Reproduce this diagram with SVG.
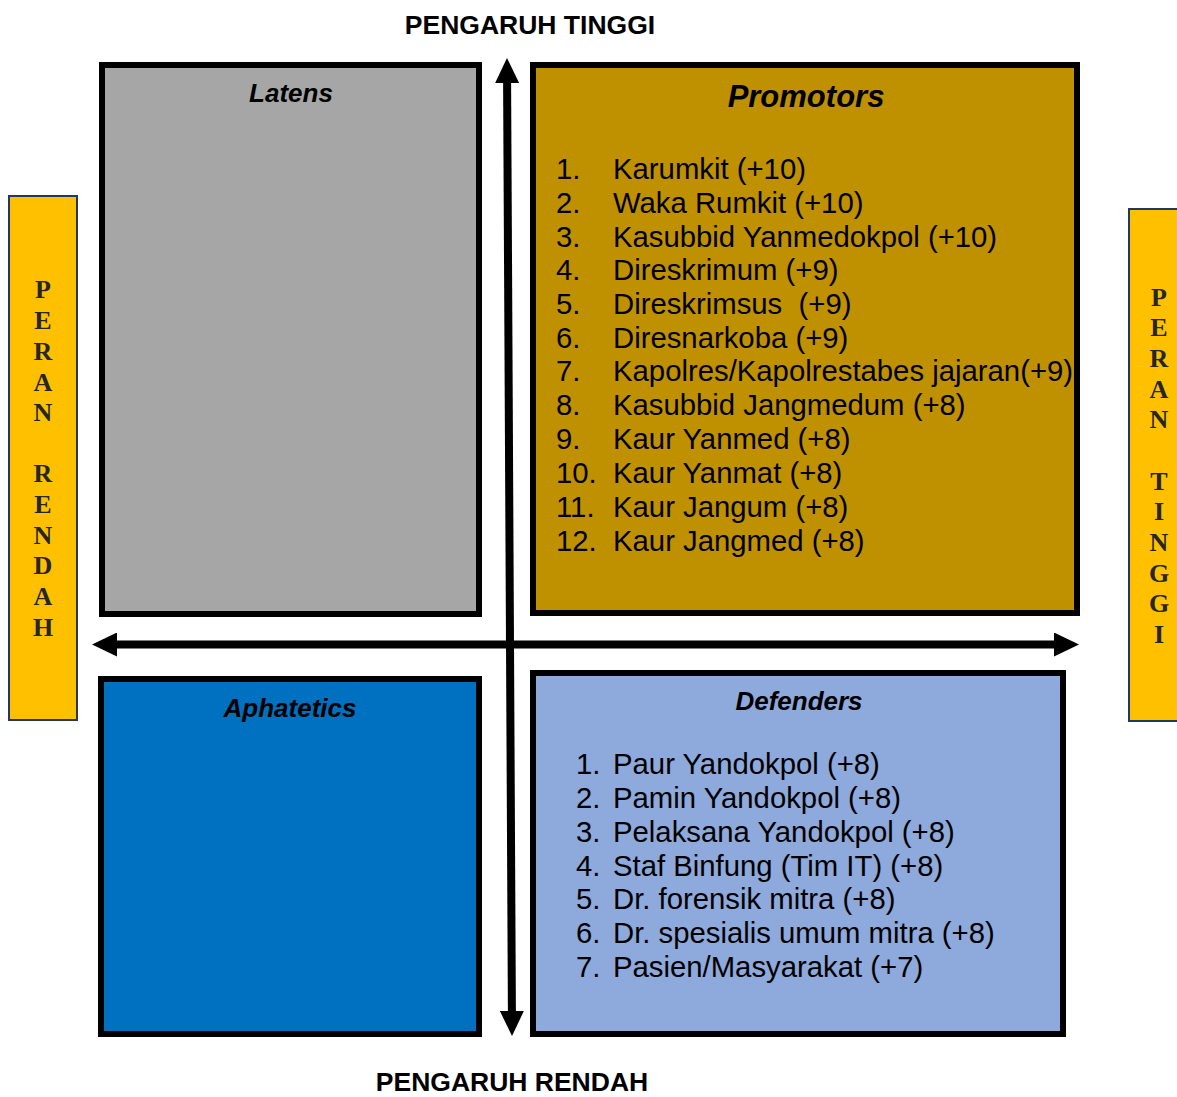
<svg xmlns="http://www.w3.org/2000/svg" width="1177" height="1097" viewBox="0 0 1177 1097">
  <style>
    .axis-label { font-family: "Liberation Sans", Arial, sans-serif; font-weight: bold; font-size: 26.5px; fill: #000; text-anchor: middle; }
    .title { font-family: "Liberation Sans", Arial, sans-serif; font-weight: bold; font-style: italic; font-size: 26px; fill: #000; text-anchor: middle; }
    .item { font-family: "Liberation Sans", Arial, sans-serif; font-size: 29.3px; fill: #000; }
    .quad { stroke: #000; stroke-width: 6; }
    .side { fill: #FFC000; stroke: #1F3864; stroke-width: 2; }
    .side-text { font-family: "Liberation Serif", "Times New Roman", serif; font-weight: bold; font-size: 26px; fill: #262626; text-anchor: middle; }
    .axis { stroke: #000; stroke-width: 8; fill: none; }
  </style>
  <defs>
    <marker id="head" viewBox="0 0 25 24" refX="0" refY="12" markerWidth="25" markerHeight="24" markerUnits="userSpaceOnUse" orient="auto-start-reverse">
      <path d="M0,0 L25,12 L0,24 Z" fill="#000"/>
    </marker>
  </defs>

  <rect width="1177" height="1097" fill="#fff"/>

  <!-- axis captions -->
  <text class="axis-label" x="530" y="34">PENGARUH TINGGI</text>
  <text class="axis-label" x="512" y="1091">PENGARUH RENDAH</text>

  <!-- side bars -->
  <g id="peran-rendah">
    <rect class="side" x="9" y="196" width="68" height="524"/>
    <text class="side-text" x="43"><tspan x="43" y="298">P</tspan><tspan x="43" y="329">E</tspan><tspan x="43" y="360">R</tspan><tspan x="43" y="391">A</tspan><tspan x="43" y="421">N</tspan><tspan x="43" y="482">R</tspan><tspan x="43" y="513">E</tspan><tspan x="43" y="544">N</tspan><tspan x="43" y="574">D</tspan><tspan x="43" y="605">A</tspan><tspan x="43" y="636">H</tspan></text>
  </g>
  <g id="peran-tinggi">
    <rect class="side" x="1129" y="209" width="60" height="512"/>
    <text class="side-text" x="1159"><tspan x="1159" y="306">P</tspan><tspan x="1159" y="336">E</tspan><tspan x="1159" y="367">R</tspan><tspan x="1159" y="398">A</tspan><tspan x="1159" y="428">N</tspan><tspan x="1159" y="490">T</tspan><tspan x="1159" y="520">I</tspan><tspan x="1159" y="551">N</tspan><tspan x="1159" y="582">G</tspan><tspan x="1159" y="612">G</tspan><tspan x="1159" y="643">I</tspan></text>
  </g>

  <!-- quadrants -->
  <g id="latens">
    <rect class="quad" x="102" y="65" width="377" height="549" fill="#A6A6A6"/>
    <text class="title" x="291" y="102">Latens</text>
  </g>

  <g id="promotors">
    <rect class="quad" x="533" y="65" width="544" height="548" fill="#BF9000"/>
    <text class="title" x="806" y="107" style="font-size:31px">Promotors</text>
    <g class="item">
      <text x="556" y="179">1.</text><text x="613" y="179">Karumkit (+10)</text>
      <text x="556" y="213">2.</text><text x="613" y="213">Waka Rumkit (+10)</text>
      <text x="556" y="247">3.</text><text x="613" y="247">Kasubbid Yanmedokpol (+10)</text>
      <text x="556" y="280">4.</text><text x="613" y="280">Direskrimum (+9)</text>
      <text x="556" y="314">5.</text><text x="613" y="314" xml:space="preserve">Direskrimsus  (+9)</text>
      <text x="556" y="348">6.</text><text x="613" y="348">Diresnarkoba (+9)</text>
      <text x="556" y="381">7.</text><text x="613" y="381">Kapolres/Kapolrestabes jajaran(+9)</text>
      <text x="556" y="415">8.</text><text x="613" y="415">Kasubbid Jangmedum (+8)</text>
      <text x="556" y="449">9.</text><text x="613" y="449">Kaur Yanmed (+8)</text>
      <text x="556" y="483">10.</text><text x="613" y="483">Kaur Yanmat (+8)</text>
      <text x="556" y="517">11.</text><text x="613" y="517">Kaur Jangum (+8)</text>
      <text x="556" y="551">12.</text><text x="613" y="551">Kaur Jangmed (+8)</text>
    </g>
  </g>

  <g id="aphatetics">
    <rect class="quad" x="101" y="679" width="378" height="355" fill="#0070C0"/>
    <text class="title" x="290" y="717">Aphatetics</text>
  </g>

  <g id="defenders">
    <rect class="quad" x="533" y="673" width="530" height="361" fill="#8EA9DB"/>
    <text class="title" x="799" y="710">Defenders</text>
    <g class="item">
      <text x="576" y="774">1.</text><text x="613" y="774">Paur Yandokpol (+8)</text>
      <text x="576" y="808">2.</text><text x="613" y="808">Pamin Yandokpol (+8)</text>
      <text x="576" y="842">3.</text><text x="613" y="842">Pelaksana Yandokpol (+8)</text>
      <text x="576" y="876">4.</text><text x="613" y="876">Staf Binfung (Tim IT) (+8)</text>
      <text x="576" y="909">5.</text><text x="613" y="909">Dr. forensik mitra (+8)</text>
      <text x="576" y="943">6.</text><text x="613" y="943">Dr. spesialis umum mitra (+8)</text>
      <text x="576" y="977">7.</text><text x="613" y="977">Pasien/Masyarakat (+7)</text>
    </g>
  </g>

  <!-- axes -->
  <g id="connectors">
    <path class="axis" d="M507.1,83 L511.9,1011" marker-start="url(#head)" marker-end="url(#head)"/>
    <path class="axis" d="M117,644.5 L1054,644.5" marker-start="url(#head)" marker-end="url(#head)"/>
  </g>
</svg>
